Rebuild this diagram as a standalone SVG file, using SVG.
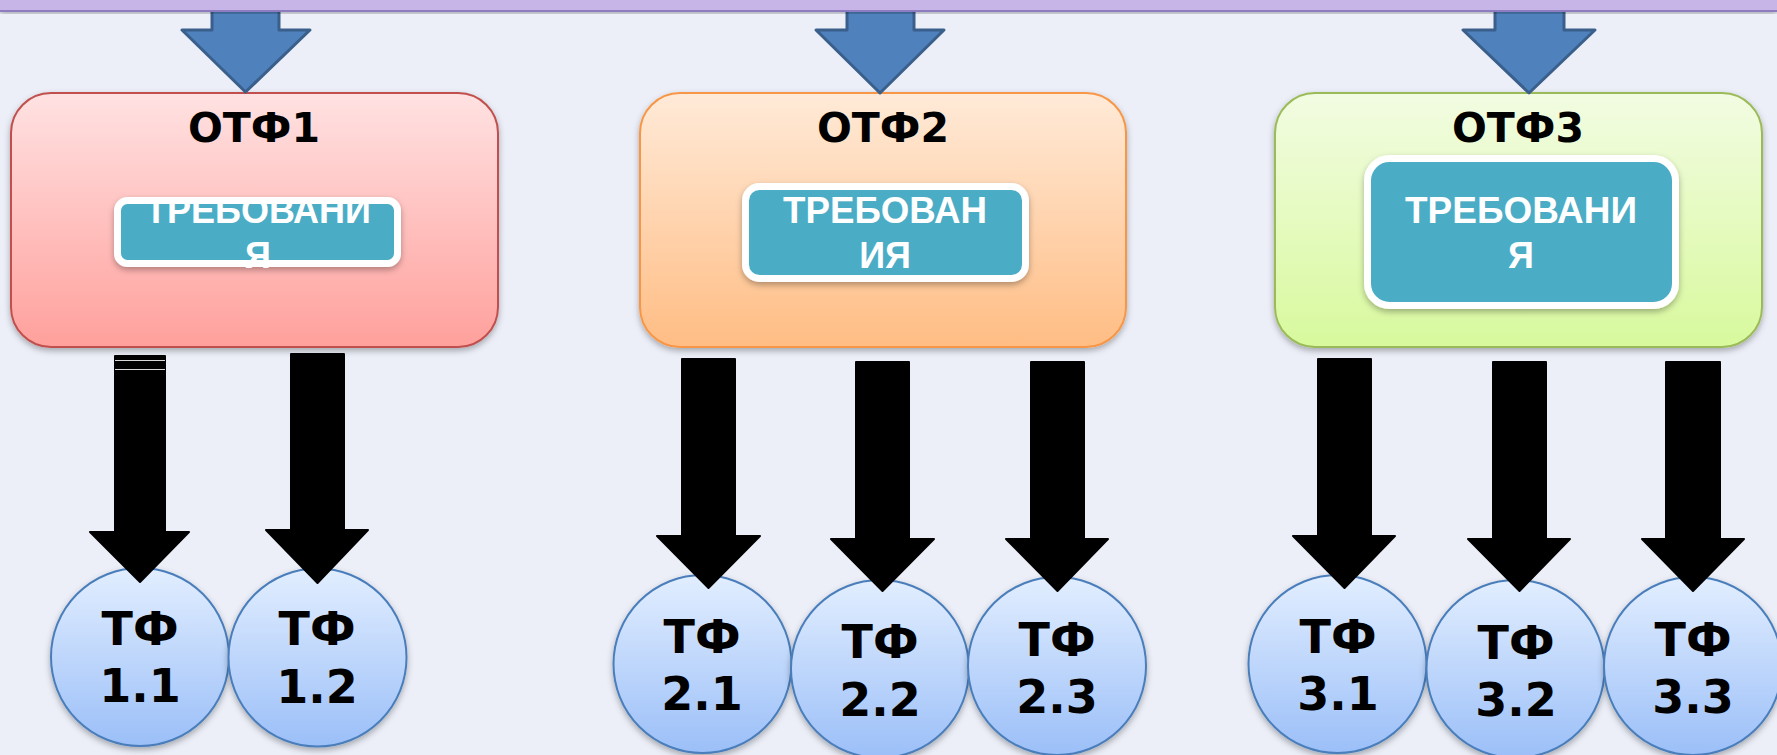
<svg xmlns="http://www.w3.org/2000/svg" width="1777" height="755" viewBox="0 0 1777 755">
<defs>
<linearGradient id="gRed" x1="0" y1="0" x2="0" y2="1"><stop offset="0" stop-color="#FFE2E2"/><stop offset="1" stop-color="#FFA09C"/></linearGradient>
<linearGradient id="gOrange" x1="0" y1="0" x2="0" y2="1"><stop offset="0" stop-color="#FFEAD8"/><stop offset="1" stop-color="#FFBD84"/></linearGradient>
<linearGradient id="gGreen" x1="0" y1="0" x2="0" y2="1"><stop offset="0" stop-color="#F2FCE2"/><stop offset="1" stop-color="#D8F99D"/></linearGradient>
<linearGradient id="gBlue" x1="0" y1="0" x2="0" y2="1"><stop offset="0" stop-color="#E2EEFF"/><stop offset="1" stop-color="#9BBFF8"/></linearGradient>
<filter id="sh" x="-10%" y="-10%" width="120%" height="130%"><feDropShadow dx="0" dy="3" stdDeviation="3" flood-color="#000" flood-opacity="0.3"/></filter>
<style>
.box{stroke-width:2;filter:url(#sh)}
.inner{fill:#4BACC6;stroke:#FFFFFF;stroke-width:7;filter:url(#sh)}
.title{font-family:"DejaVu Sans",Verdana,sans-serif;font-weight:bold;font-size:41px;fill:#000;text-anchor:middle}
.req{font-family:"Liberation Sans",Arial,sans-serif;font-weight:bold;font-size:36px;fill:#FFFFFF;text-anchor:middle}
.tf{fill:url(#gBlue);stroke:#4A7EBB;stroke-width:2;filter:url(#sh)}
.tft{font-family:"DejaVu Sans",Verdana,sans-serif;font-weight:bold;font-size:46px;fill:#000;text-anchor:middle}
.blk{fill:#000;stroke:#000;stroke-width:2;stroke-linejoin:round}
.bl{fill:#4F81BD;stroke:#3A5F8B;stroke-width:3;stroke-linejoin:round}
</style>
</defs>
<rect x="0" y="0" width="1777" height="755" fill="#ECEFF8"/>

<g id="otf1">
<rect class="box" x="11" y="93" width="487" height="254" rx="40" fill="url(#gRed)" stroke="#C0504D"/>
<text class="title" x="254" y="142">ОТФ1</text>
<rect class="inner" x="117.5" y="200.5" width="280" height="63" rx="10"/>
<text class="req" x="258" y="223" textLength="226" lengthAdjust="spacingAndGlyphs">ТРЕБОВАНИ</text>
<text class="req" x="258" y="268">Я</text>
</g>

<g id="otf2">
<rect class="box" x="640" y="93" width="486" height="254" rx="40" fill="url(#gOrange)" stroke="#F79646"/>
<text class="title" x="883" y="142">ОТФ2</text>
<rect class="inner" x="745.5" y="186.5" width="280" height="92" rx="14"/>
<text class="req" x="885" y="223" textLength="204" lengthAdjust="spacingAndGlyphs">ТРЕБОВАН</text>
<text class="req" x="885" y="268">ИЯ</text>
</g>

<g id="otf3">
<rect class="box" x="1275" y="93" width="487" height="254" rx="40" fill="url(#gGreen)" stroke="#9BBB59"/>
<text class="title" x="1518" y="142">ОТФ3</text>
<rect class="inner" x="1367.5" y="158.5" width="308" height="147" rx="22"/>
<text class="req" x="1521" y="223" textLength="232" lengthAdjust="spacingAndGlyphs">ТРЕБОВАНИ</text>
<text class="req" x="1521" y="268">Я</text>
</g>

<g id="tf11"><circle class="tf" cx="140" cy="657" r="89"/><text class="tft" x="140" y="645">ТФ</text><text class="tft" x="140" y="702">1.1</text></g>
<g id="tf12"><circle class="tf" cx="317.5" cy="657.5" r="89"/><text class="tft" x="317" y="645">ТФ</text><text class="tft" x="317" y="703">1.2</text></g>
<g id="tf21"><circle class="tf" cx="702.5" cy="664" r="89"/><text class="tft" x="702" y="653">ТФ</text><text class="tft" x="702" y="710">2.1</text></g>
<g id="tf22"><circle class="tf" cx="880" cy="669" r="89"/><text class="tft" x="880" y="658">ТФ</text><text class="tft" x="880" y="716">2.2</text></g>
<g id="tf23"><circle class="tf" cx="1057" cy="666" r="89"/><text class="tft" x="1057" y="656">ТФ</text><text class="tft" x="1057" y="713">2.3</text></g>
<g id="tf31"><circle class="tf" cx="1337.5" cy="664" r="89"/><text class="tft" x="1338" y="653">ТФ</text><text class="tft" x="1338" y="710">3.1</text></g>
<g id="tf32"><circle class="tf" cx="1515.5" cy="669" r="89"/><text class="tft" x="1516" y="659">ТФ</text><text class="tft" x="1516" y="716">3.2</text></g>
<g id="tf33"><circle class="tf" cx="1693" cy="666" r="89"/><text class="tft" x="1693" y="656">ТФ</text><text class="tft" x="1693" y="713">3.3</text></g>

<g id="connectors">
<path class="bl" d="M212,8 H279 V30 H310 L245.5,92 L182,30 H212 Z"/>
<path class="bl" d="M847,8 H914 V30 H944 L880,93 L816,30 H847 Z"/>
<path class="bl" d="M1495,8 H1564 V30 H1595 L1529,93 L1463,30 H1495 Z"/>

<path class="blk" d="M115,356 H165 V532 H189 L140,582 L90,532 H115 Z"/>
<line x1="115" y1="360.5" x2="165" y2="360.5" stroke="#D8D8D8" stroke-width="1"/>
<line x1="115" y1="369.5" x2="165" y2="369.5" stroke="#D8D8D8" stroke-width="1"/>
<path class="blk" d="M291,354 H344 V530 H368 L317.5,583 L266,530 H291 Z"/>
<path class="blk" d="M682,359 H735 V536 H760 L708.5,588 L657,536 H682 Z"/>
<path class="blk" d="M856,362 H909 V539 H934 L882.5,591 L831,539 H856 Z"/>
<path class="blk" d="M1031,362 H1084 V539 H1108 L1057.5,591 L1006,539 H1031 Z"/>
<path class="blk" d="M1318,359 H1371 V536 H1395 L1344.5,588 L1293,536 H1318 Z"/>
<path class="blk" d="M1493,362 H1546 V539 H1570 L1519.5,591 L1468,539 H1493 Z"/>
<path class="blk" d="M1666,362 H1720 V539 H1744 L1693,591 L1642,539 H1666 Z"/>
</g>

<rect x="0" y="0" width="1777" height="11" fill="#C8B5E7" filter="url(#sh)"/>
<line x1="0" y1="11" x2="1777" y2="11" stroke="#8E7CC0" stroke-width="2"/>
</svg>
